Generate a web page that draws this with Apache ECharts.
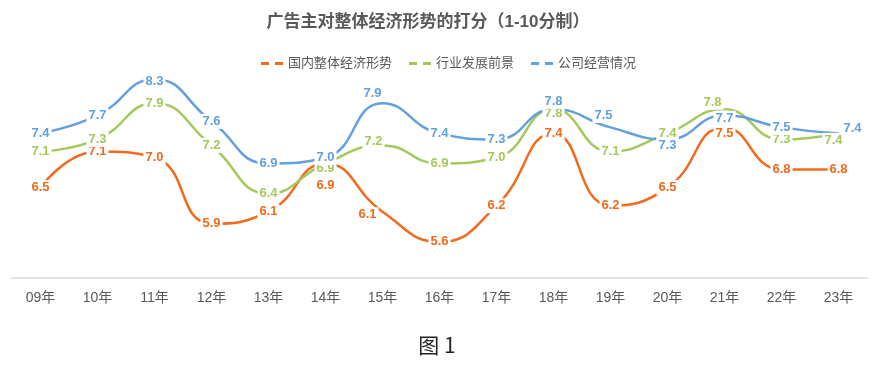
<!DOCTYPE html>
<html>
<head>
<meta charset="utf-8">
<script src="https://cdn.jsdelivr.net/npm/echarts@6/dist/echarts.min.js"></script>
<style>
html,body{margin:0;padding:0;background:#fff;}
#chart{width:873px;height:372px;}
</style>
</head>
<body>
<div id="chart"></div>
<script>
const categories = ['09年','10年','11年','12年','13年','14年','15年','16年','17年','18年','19年','20年','21年','22年','23年'];
const domestic = [6.5, 7.1, 7.0, 5.9, 6.1, 6.9, 6.1, 5.6, 6.2, 7.4, 6.2, 6.5, 7.5, 6.8, 6.8];
const industry = [7.1, 7.3, 7.9, 7.2, 6.4, 6.9, 7.2, 6.9, 7.0, 7.8, 7.1, 7.4, 7.8, 7.3, 7.4];
const company  = [7.4, 7.7, 8.3, 7.6, 6.9, 7.0, 7.9, 7.4, 7.3, 7.8, 7.5, 7.3, 7.7, 7.5, 7.4];
const seriesNames = ['国内整体经济形势', '行业发展前景', '公司经营情况'];
const titleText = '广告主对整体经济形势的打分（1-10分制）';
const captionText = '图 1';

const colors = ['#F26A1B', '#A4C95A', '#62A0DE'];
// label offsets (px) for individual points, by series then index
const labelOffsets = [
  {5: [0, 22], 6: [-15, 3], 12: [0, 6]},
  {5: [0, 5], 6: [-9, -4], 9: [0, 4], 12: [-12, -7], 14: [-5, 7]},
  {2: [0, 2], 6: [-10, -10], 9: [0, -8], 10: [-7, -12], 11: [0, 6], 12: [0, 3], 14: [14, -5]}
];

const FONT = '"Liberation Sans", Arial, "Noto Sans CJK SC", sans-serif';

function buildData(values, si) {
  return values.map((v, i) => {
    const off = labelOffsets[si][i];
    return off ? {value: v, label: {offset: off}} : v;
  });
}

const chart = echarts.init(document.getElementById('chart'), null, {renderer: 'canvas'});
const series = [domestic, industry, company].map((vals, si) => ({
  name: seriesNames[si],
  type: 'line',
  smooth: 0.5,
  data: buildData(vals, si),
  symbol: 'circle',
  symbolSize: 1,
  showSymbol: true,
  lineStyle: {color: colors[si], width: 2.5},
  itemStyle: {color: colors[si]},
  label: {
    show: true,
    position: 'inside',
    color: colors[si],
    fontSize: 13,
    fontWeight: 'bold',
    fontFamily: FONT,
    backgroundColor: '#fff',
    padding: [1, 2],
    formatter: p => Number(p.value).toFixed(1)
  },
  emphasis: {disabled: true},
  animation: false
}));

chart.setOption({
  animation: false,
  color: colors,
  grid: {left: 12, right: 6, top: 37, bottom: 94},
  legend: {
    left: 256, top: 52,
    itemWidth: 22, itemHeight: 3, itemGap: 17,
    icon: 'path://M0,0 h8 v3 h-8 z M14,0 h8 v3 h-8 z',
    textStyle: {color: '#595959', fontSize: 13, fontFamily: FONT},
    data: seriesNames.map((n, i) => ({name: n, itemStyle: {color: colors[i]}}))
  },
  xAxis: {
    type: 'category',
    data: categories,
    boundaryGap: true,
    axisLine: {show: true, lineStyle: {color: '#E3E3E3', width: 2}},
    axisTick: {show: false},
    axisLabel: {color: '#595959', fontSize: 14, fontFamily: FONT, margin: 13}
  },
  yAxis: {
    type: 'value', min: 5, max: 9, interval: 1,
    show: false,
    splitLine: {show: false}
  },
  graphic: [
    {type: 'text', x: 428, y: 22,
     style: {text: titleText, fill: '#595959', font: 'bold 17px ' + FONT, textAlign: 'center', textVerticalAlign: 'middle'}},
    {type: 'text', x: 437, y: 345,
     style: {text: captionText, fill: '#222', font: '21px "Noto Sans CJK SC", "DejaVu Serif", serif', textAlign: 'center', textVerticalAlign: 'middle'}}
  ],
  series: series
});
</script>
</body>
</html>
